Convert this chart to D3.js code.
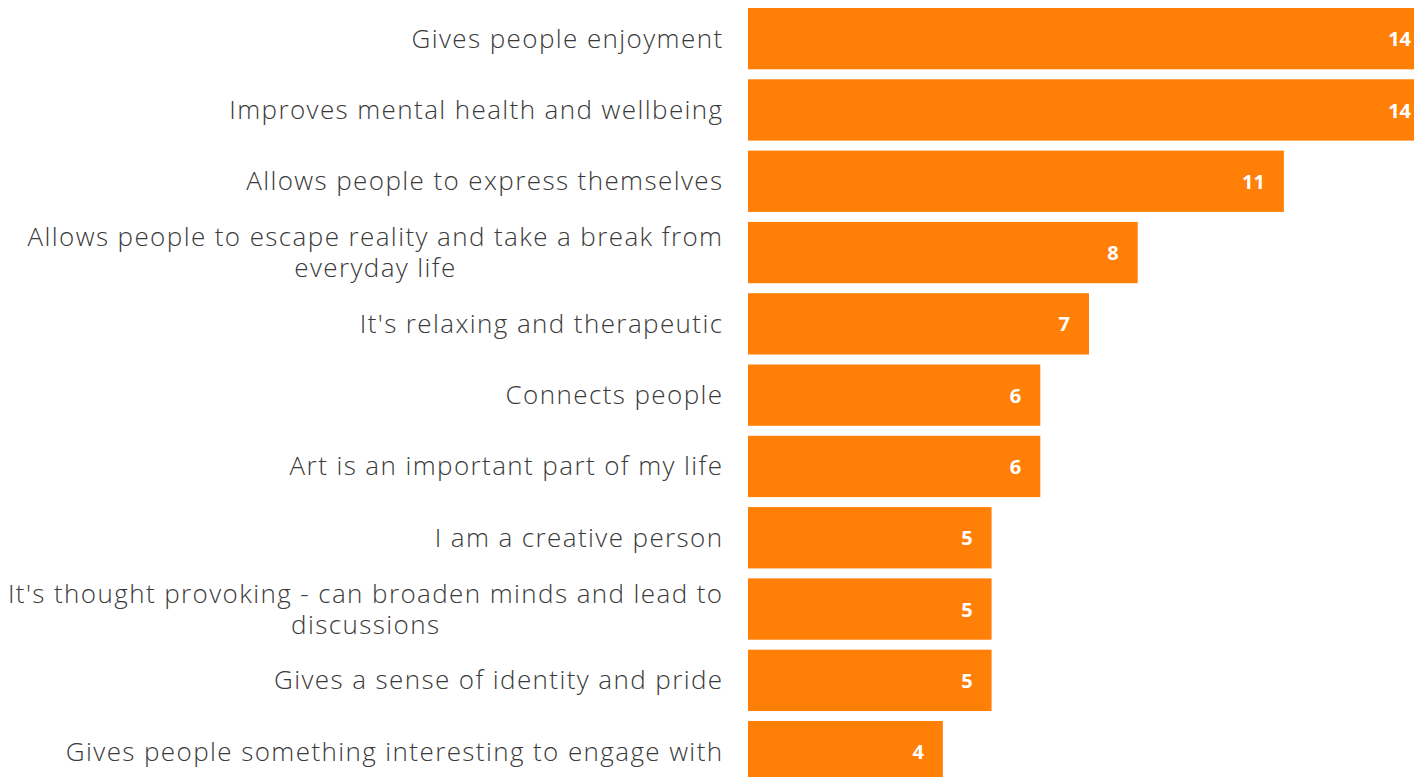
<!DOCTYPE html>
<html>
<head>
<meta charset="utf-8">
<script src="https://cdn.jsdelivr.net/npm/d3@7"></script>
<style>
  body { margin: 0; background: #fff; overflow: hidden; }
  .cat-label { font-family: "Open Sans", sans-serif; font-size: 26px; font-weight: 300; letter-spacing: 1.4px; fill: #3a3a3a; }
  .val-label { font-family: "Open Sans", sans-serif; font-size: 20px; font-weight: bold; fill: #fff; }
</style>
</head>
<body>
<div id="chart"></div>
<script>
// categories (line breaks as in the original)
const categories = [
  "Gives people enjoyment",
  "Improves mental health and wellbeing",
  "Allows people to express themselves",
  "Allows people to escape reality and take a break from\neveryday life",
  "It's relaxing and therapeutic",
  "Connects people",
  "Art is an important part of my life",
  "I am a creative person",
  "It's thought provoking - can broaden minds and lead to\ndiscussions",
  "Gives a sense of identity and pride",
  "Gives people something interesting to engage with"
];
const values = [14, 14, 11, 8, 7, 6, 6, 5, 5, 5, 4];

const width = 1414, height = 777;
const barColor = "#ff7f07";

const svg = d3.select("#chart").append("svg")
    .attr("width", width)
    .attr("height", height);

const x = d3.scaleLinear()
    .domain([0, 14])
    .range([748, 1430]);

const y = d3.scaleBand()
    .domain(d3.range(categories.length))
    .range([3, 787.3])
    .paddingInner(0.14)
    .paddingOuter(0.07);

const data = categories.map((c, i) => ({label: c, value: values[i], i: i}));

// bars
svg.selectAll("rect.bar")
    .data(data)
    .enter()
    .append("rect")
    .attr("class", "bar")
    .attr("x", x(0))
    .attr("y", d => y(d.i))
    .attr("width", d => x(d.value) - x(0))
    .attr("height", y.bandwidth())
    .attr("fill", barColor);

// value labels inside bar end
svg.selectAll("text.val-label")
    .data(data)
    .enter()
    .append("text")
    .attr("class", "val-label")
    .attr("x", d => x(d.value) - 19)
    .attr("y", d => y(d.i) + y.bandwidth() / 2)
    .attr("dy", "0.38em")
    .attr("text-anchor", "end")
    .text(d => d.value);

// category labels, right aligned; each wrapped line is its own text
const lineH = 31, labelX = 723.5;
const lines = [];
data.forEach(d => {
    const parts = d.label.split("\n");
    parts.forEach((ln, k) => {
        lines.push({text: ln, i: d.i, k: k, n: parts.length});
    });
});

svg.selectAll("text.cat-label")
    .data(lines)
    .enter()
    .append("text")
    .attr("class", "cat-label")
    .attr("text-anchor", "end")
    .attr("x", labelX)
    .attr("y", d => y(d.i) + y.bandwidth() / 2 + 9 + (d.k - (d.n - 1) / 2) * lineH)
    .text(d => d.text);

// second lines are centred under the first line
svg.selectAll("text.cat-label")
    .filter(d => d.k > 0)
    .each(function(d) {
        const first = svg.selectAll("text.cat-label").filter(e => e.i === d.i && e.k === 0).node();
        const mid = labelX - first.getComputedTextLength() / 2;
        d3.select(this).attr("text-anchor", "middle").attr("x", mid);
    });
</script>
</body>
</html>
